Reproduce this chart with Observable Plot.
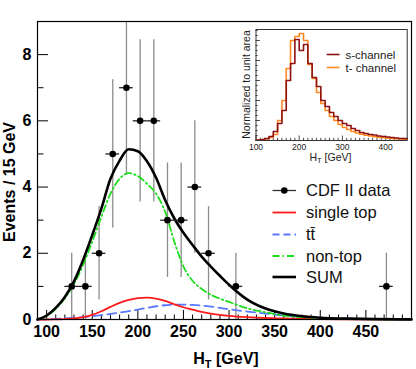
<!DOCTYPE html>
<html><head><meta charset="utf-8">
<script src="https://cdn.jsdelivr.net/npm/d3@7"></script>
<script src="https://cdn.jsdelivr.net/npm/@observablehq/plot@0.6"></script>
<style>
html,body{margin:0;padding:0;background:#fff;}
#wrap{position:relative;width:416px;height:369px;overflow:hidden;}
#wrap svg{position:absolute;}
</style></head><body><div id="wrap"></div>
<script>
// ---------- main panel data ----------
const binCenters = [127.5, 142.5, 157.5, 172.5, 187.5, 202.5, 217.5, 232.5, 247.5, 262.5, 277.5, 307.5, 472.5];
const counts     = [1, 1, 2, 5, 7, 6, 6, 3, 3, 4, 2, 1, 1];
const countErrs  = [1, 1, 1.41, 2.24, 2.65, 2.45, 2.45, 1.73, 1.73, 2, 1.41, 1, 1];
const binWidth = 15;

const curveX    = [90,100,110,120,130,140,150,160,170,180,190,200,210,220,230,240,250,260,270,280,290,300,320,340,360,380,400,430,460,500];
const sumCurve  = [0.0,0.12,0.35,0.68,1.15,1.8,2.55,3.35,4.25,4.8,5.14,5.08,4.78,4.28,3.6,3.05,2.62,2.25,1.9,1.6,1.32,1.05,0.6,0.33,0.18,0.1,0.055,0.025,0.01,0.003];
const nonTop    = [0.0,0.1,0.32,0.64,1.07,1.65,2.35,3.1,3.8,4.25,4.42,4.33,4.1,3.8,3.25,2.35,1.6,1.17,0.92,0.75,0.63,0.53,0.34,0.22,0.12,0.07,0.04,0.02,0.01,0.0];
const singleTop = [0,0,0.005,0.012,0.03,0.07,0.14,0.25,0.38,0.5,0.59,0.645,0.66,0.63,0.56,0.46,0.37,0.3,0.23,0.18,0.14,0.11,0.07,0.045,0.03,0.02,0.012,0.006,0.003,0.001];
const ttbar     = [0,0.005,0.015,0.03,0.05,0.07,0.1,0.13,0.17,0.21,0.25,0.3,0.35,0.4,0.43,0.45,0.45,0.44,0.42,0.39,0.35,0.31,0.24,0.18,0.12,0.08,0.05,0.03,0.015,0.005];

const xTickLabels = [100,150,200,250,300,350,400,450];
const xMinorTicks = [90,110,120,130,140,160,170,180,190,210,220,230,240,260,270,280,290,310,320,330,340,360,370,380,390,410,420,430,440,460,470,480,490];
const yTickLabels = [0,2,4,6,8];
const yMinorTicks = [1,3,5,7];

const legendLabels = ["CDF II data", "single top", "tt\u0304", "non-top", "SUM"];

// ---------- inset data ----------
const insetBinLow = [100,110,120,130,140,150,160,170,180,190,200,210,220,230,240,250,260,270,280,290,300,310,320,330,340,350,360,370,380,390,400,410,420,430,440];
const sChannel = [0.0005,0.001,0.002,0.004,0.009,0.017,0.03,0.06,0.077,0.101,0.09,0.096,0.077,0.063,0.054,0.04,0.034,0.028,0.024,0.02,0.017,0.015,0.012,0.01,0.008,0.007,0.006,0.0055,0.0045,0.004,0.0035,0.003,0.0025,0.002,0.002];
const tChannel = [0.0003,0.0008,0.0015,0.003,0.006,0.02,0.04,0.072,0.1,0.104,0.107,0.1,0.076,0.062,0.048,0.037,0.03,0.024,0.02,0.016,0.013,0.011,0.009,0.0075,0.0063,0.0053,0.0045,0.0038,0.0032,0.0027,0.0023,0.002,0.0017,0.0015,0.0013];
const insetXLabels = [100,200,300,400];
const insetLegend = ["s-channel", "t- channel"];

// ---------- build ----------
const FONT = "'Liberation Sans', Arial, Helvetica, sans-serif";
const W = 416, H = 369, mL = 37, mR = 5, mT = 21, mB = 50;
const pH = H - mT - mB, pW = W - mL - mR;

const points = binCenters.map((x, i) => ({x, n: counts[i], e: countErrs[i]}));
const curves = curveX.map((x, i) => ({x, sum: sumCurve[i], non: nonTop[i], single: singleTop[i], tt: ttbar[i]}));

const colRed = "#ff1a1a", colBlue = "#5a78ff", colGreen = "#1ddd1d";

const main = Plot.plot({
  width: W, height: H,
  marginLeft: mL, marginRight: mR, marginTop: mT, marginBottom: mB,
  x: {domain: [90, 500]},
  y: {domain: [0, 9]},
  style: {fontFamily: FONT, background: "white", color: "#000"},
  marks: [
    Plot.tickX(xMinorTicks, {x: d => d, insetTop: pH - 4.5, stroke: "#000", strokeWidth: 1}),
    Plot.tickX(xTickLabels, {x: d => d, insetTop: pH - 9, stroke: "#000", strokeWidth: 1}),
    Plot.tickY(yMinorTicks, {y: d => d, insetRight: pW - 6.5, stroke: "#000", strokeWidth: 1}),
    Plot.tickY(yTickLabels, {y: d => d, insetRight: pW - 11, stroke: "#000", strokeWidth: 1}),
    Plot.axisX(xTickLabels, {tickSize: 0, tickPadding: 6, fontSize: 16, fontWeight: "bold", fill: "#000", label: null}),
    Plot.axisY(yTickLabels, {tickSize: 0, tickPadding: 6, fontSize: 16, fontWeight: "bold", fill: "#000", label: null}),
    Plot.ruleX(points, {x: "x", y1: d => d.n - d.e, y2: d => d.n + d.e, stroke: "#8c8c8c", strokeWidth: 1.3, clip: true}),
    Plot.line(curves, {x: "x", y: "tt", stroke: colBlue, strokeWidth: 1.8, strokeDasharray: "9,5", curve: "monotone-x"}),
    Plot.line(curves, {x: "x", y: "single", stroke: colRed, strokeWidth: 1.8, curve: "monotone-x"}),
    Plot.line(curves, {x: "x", y: "non", stroke: colGreen, strokeWidth: 1.8, strokeDasharray: "7,3,1.5,3", curve: "monotone-x"}),
    Plot.line(curves, {x: "x", y: "sum", stroke: "#000", strokeWidth: 2.6, curve: "monotone-x"}),
    Plot.ruleY(points, {y: "n", x1: d => d.x - binWidth / 2, x2: d => d.x + binWidth / 2, stroke: "#222", strokeWidth: 1.3}),
    Plot.dot(points, {x: "x", y: "n", r: 3.3, fill: "#000", stroke: "none"}),
    Plot.frame({stroke: "#000", strokeWidth: 1.2})
  ]
});
main.style.left = "0px"; main.style.top = "0px";

const ms = d3.select(main);
// axis titles
const xt = ms.append("text").attr("x", 226).attr("y", 363.5).attr("text-anchor", "middle")
  .attr("font-family", FONT).attr("font-size", 16).attr("font-weight", "bold").attr("fill", "#000");
xt.append("tspan").text("H");
xt.append("tspan").attr("font-size", 11).attr("dy", 4).text("T");
xt.append("tspan").attr("dy", -4).text(" [GeV]");
ms.append("text").attr("transform", "translate(14.5,182) rotate(-90)").attr("text-anchor", "middle")
  .attr("font-family", FONT).attr("font-size", 16).attr("font-weight", "bold").attr("fill", "#000")
  .text("Events / 15 GeV");

// legend
const legY = [190.5, 212.5, 234.5, 256, 277];
const legStyles = [
  {stroke: "#333", w: 1.3, dash: null},
  {stroke: colRed, w: 1.8, dash: null},
  {stroke: colBlue, w: 1.8, dash: "7,4"},
  {stroke: colGreen, w: 1.8, dash: "7,3,1.5,3"},
  {stroke: "#000", w: 2.6, dash: null}
];
legendLabels.forEach((lab, i) => {
  const y = legY[i], s = legStyles[i];
  const ln = ms.append("line").attr("x1", 272.5).attr("x2", 296).attr("y1", y).attr("y2", y)
    .attr("stroke", s.stroke).attr("stroke-width", s.w);
  if (s.dash) ln.attr("stroke-dasharray", s.dash);
  if (i === 0) ms.append("circle").attr("cx", 284.3).attr("cy", y).attr("r", 3.3).attr("fill", "#000");
  ms.append("text").attr("x", 306).attr("y", y).attr("dy", "0.36em").attr("text-anchor", "start")
    .attr("font-family", FONT).attr("font-size", 16.5).attr("fill", "#111").text(lab);
});

// ---------- inset ----------
const iW = 178, iH = 145, imL = 19.5, imR = 7.3, imT = 7, imB = 27;
const ipH = iH - imT - imB, ipW = iW - imL - imR;
const sTable = insetBinLow.map((x, i) => ({x, v: sChannel[i]}));
sTable.push({x: 450, v: sChannel[sChannel.length - 1]});
const tTable = insetBinLow.map((x, i) => ({x, v: tChannel[i]}));
tTable.push({x: 450, v: tChannel[tChannel.length - 1]});
const insetXMinor = insetBinLow.filter(d => d % 100 !== 0);
const insetYMajor = [0.02, 0.04, 0.06, 0.08, 0.1];
const insetYMinor = [0.005,0.01,0.015,0.025,0.03,0.035,0.045,0.05,0.055,0.065,0.07,0.075,0.085,0.09,0.095,0.105,0.11];

const inset = Plot.plot({
  width: iW, height: iH,
  marginLeft: imL, marginRight: imR, marginTop: imT, marginBottom: imB,
  x: {domain: [100, 450]},
  y: {domain: [0, 0.111], axis: null},
  style: {fontFamily: FONT, background: "transparent", overflow: "visible"},
  marks: [
    Plot.frame({fill: "white", stroke: "none"}),
    Plot.tickX(insetXMinor, {x: d => d, insetTop: ipH - 2.2, stroke: "#222", strokeWidth: 0.8}),
    Plot.tickX(insetXLabels, {x: d => d, insetTop: ipH - 4.5, stroke: "#222", strokeWidth: 0.8}),
    Plot.tickY(insetYMinor, {y: d => d, insetRight: ipW - 2.2, stroke: "#222", strokeWidth: 0.8}),
    Plot.tickY(insetYMajor, {y: d => d, insetRight: ipW - 4.5, stroke: "#222", strokeWidth: 0.8}),
    Plot.axisX(insetXLabels, {tickSize: 0, tickPadding: 3.5, fontSize: 8.5, fill: "#222", label: null}),
    Plot.line(tTable, {x: "x", y: "v", curve: "step-after", stroke: "#ff8a24", strokeWidth: 1.6}),
    Plot.line(sTable, {x: "x", y: "v", curve: "step-after", stroke: "#8e1212", strokeWidth: 1.6}),
    Plot.frame({stroke: "#333", strokeWidth: 1})
  ]
});
inset.style.left = "236px"; inset.style.top = "22px";
const is = d3.select(inset);
is.append("text").attr("transform", `translate(14.3,${imT + ipH / 2}) rotate(-90)`).attr("text-anchor", "middle")
  .attr("font-family", FONT).attr("font-size", 10.5).attr("fill", "#222").text("Normalized to unit area");
const ixt = is.append("text").attr("x", 94.5).attr("y", 138.5).attr("text-anchor", "middle")
  .attr("font-family", FONT).attr("font-size", 10.5).attr("fill", "#222");
ixt.append("tspan").text("H");
ixt.append("tspan").attr("font-size", 7.5).attr("dy", 2.5).text("T");
ixt.append("tspan").attr("dy", -2.5).text(" [GeV]");
const ilegCols = ["#8e1212", "#ff8a24"];
const ilegY = [54.5 - 22, 67.5 - 22];
insetLegend.forEach((lab, i) => {
  is.append("line").attr("x1", 90.7).attr("x2", 103.5).attr("y1", ilegY[i]).attr("y2", ilegY[i])
    .attr("stroke", ilegCols[i]).attr("stroke-width", 1.6);
  is.append("text").attr("x", 109.5).attr("y", ilegY[i]).attr("dy", "0.36em").attr("text-anchor", "start")
    .attr("font-family", FONT).attr("font-size", 11.5).attr("fill", "#222").text(lab);
});

const wrap = document.getElementById("wrap");
wrap.appendChild(main);
wrap.appendChild(inset);
</script></body></html>
